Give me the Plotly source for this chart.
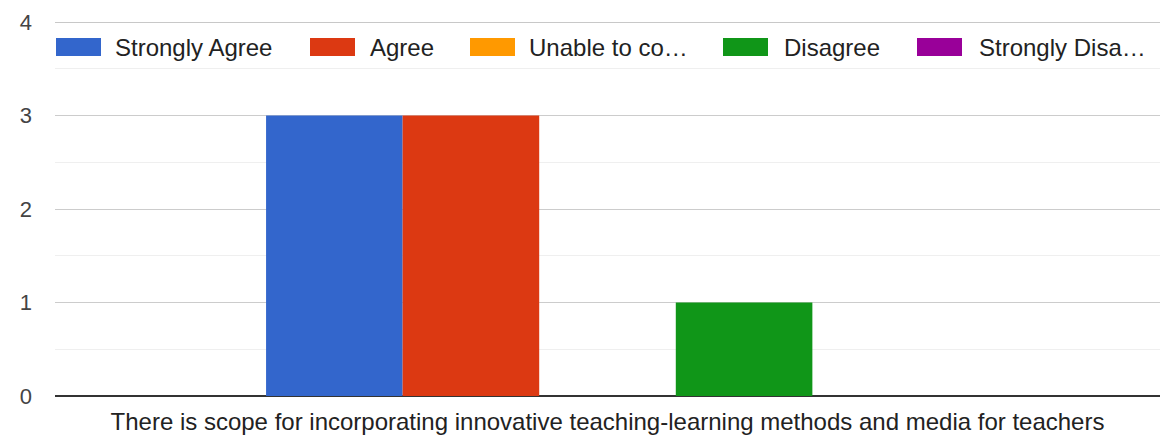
import plotly.graph_objects as go

# ---- data ----
category = ["There is scope for incorporating innovative teaching-learning methods and media for teachers"]
series_names = ["Strongly Agree", "Agree", "Unable to comment", "Disagree", "Strongly Disagree"]
legend_labels = ["Strongly Agree", "Agree", "Unable to co…", "Disagree", "Strongly Disa…"]
series_values = [3, 3, 0, 1, 0]
series_colors = ["#3366cc", "#dc3912", "#ff9900", "#109618", "#990099"]
y_ticks = [0, 1, 2, 3, 4]

# ---- layout geometry (pixels) ----
W, H = 1162, 438
ML, MR, MT, MB = 55, 2, 22, 42
PW, PH = W - ML - MR, H - MT - MB

def px_x(p):
    return (p - ML) / PW

def px_y(p):
    return (H - MB - p) / PH

FONT = "Liberation Sans, Arial, sans-serif"

fig = go.Figure()
for name, val, col in zip(series_names, series_values, series_colors):
    fig.add_trace(go.Bar(
        x=category, y=[val], name=name,
        marker=dict(color=col, line=dict(width=0)),
        showlegend=False,
    ))

# custom legend (swatch + label), placed like the reference
swatch_left = [56, 310, 470, 723, 917]
text_left = [113, 368, 527, 782, 977]
shapes = [dict(type="line", xref="paper", yref="y", x0=0, x1=1, y0=y_ticks[-1], y1=y_ticks[-1],
               line=dict(color="#c8c8c8", width=2), layer="below")]
annotations = []
for sx, tx, lab, col in zip(swatch_left, text_left, legend_labels, series_colors):
    shapes.append(dict(type="rect", xref="paper", yref="paper",
                       x0=px_x(sx), x1=px_x(sx + 45), y0=px_y(56), y1=px_y(38),
                       fillcolor=col, line=dict(width=0), layer="above"))
    annotations.append(dict(xref="paper", yref="paper", x=px_x(tx), y=px_y(47),
                            text=lab, showarrow=False, xanchor="left", yanchor="middle",
                            font=dict(family=FONT, size=24, color="#222222")))

fig.update_layout(
    width=W, height=H,
    margin=dict(l=ML, r=MR, t=MT, b=MB, pad=0),
    paper_bgcolor="white", plot_bgcolor="white",
    barmode="group", bargap=0.382, bargroupgap=0.0,
    font=dict(family=FONT, size=21, color="#222222"),
    shapes=shapes, annotations=annotations,
    xaxis=dict(showgrid=False, zeroline=False, showline=False, ticks="",
               ticklabelstandoff=9,
               tickfont=dict(size=24, color="#222222")),
    yaxis=dict(range=[0, 4], tickvals=y_ticks, showgrid=True, gridcolor="#cccccc",
               gridwidth=1, zeroline=True, zerolinecolor="#333333", zerolinewidth=2,
               showline=False, ticks="", ticklabelstandoff=22,
               tickfont=dict(size=22, color="#444444"),
               minor=dict(dtick=0.5, showgrid=True, gridcolor="#efefef", gridwidth=1)),
)

fig.write_html("out.html", config={"displayModeBar": False},
               post_script="document.body.style.margin='0';document.body.style.overflow='hidden';")
